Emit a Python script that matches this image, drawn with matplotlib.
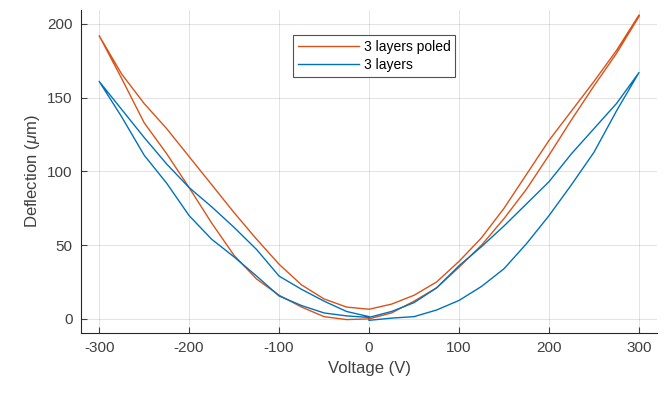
import numpy as np
import matplotlib
matplotlib.use("Agg")
import matplotlib.pyplot as plt

plt.rcParams['font.family'] = ['Liberation Sans', 'DejaVu Sans']
plt.rcParams['mathtext.fontset'] = 'custom'
plt.rcParams['mathtext.it'] = 'Liberation Sans:italic'
plt.rcParams['axes.unicode_minus'] = False

# voltage grid for each half-sweep (V)
v_pos = [0, 25, 50, 75, 100, 125, 150, 175, 200, 225, 250, 275, 300]
v_neg = [0, -25, -50, -75, -100, -125, -150, -175, -200, -225, -250, -275, -300]

# 3 layers poled (um): four branches of the loop
poled_right_up = [0, 4, 12, 21, 35, 50, 68, 88, 111, 135, 158, 180, 205]
poled_right_down = [6.5, 10, 16, 25, 39, 55, 75, 98, 121, 141, 161, 182, 206]
poled_left_out = [6.5, 8, 13.5, 23, 37, 54, 72, 91, 110, 129, 146, 166, 192]
poled_left_back = [0, -0.5, 1.5, 8, 16, 27, 43, 65, 89, 112, 133, 163, 192]

# 3 layers (um)
plain_right_up = [-1, 0.5, 1.5, 6, 12.5, 22, 34, 51, 70, 91, 113, 141, 167]
plain_right_down = [1, 5, 11, 21, 36, 49, 63, 78, 93, 112, 129, 146, 167]
plain_left_out = [1.5, 5, 12, 20, 29, 47, 62, 76, 89, 105, 123, 142, 161]
plain_left_back = [1, 2, 4, 9, 15.5, 29, 42, 54, 70, 92, 111, 137, 161]


def loop(up, down, out, back):
    v = v_pos + v_pos[::-1] + v_neg + v_neg[::-1]
    d = up + down[::-1] + out + back[::-1]
    return np.array(v), np.array(d)


orange = '#D95319'
blue = '#0072BD'

fig = plt.figure(figsize=(6.65, 3.93), dpi=100)
ax = fig.add_axes([0.122, 0.153, 0.866, 0.822])

v1, d1 = loop(poled_right_up, poled_right_down, poled_left_out, poled_left_back)
v2, d2 = loop(plain_right_up, plain_right_down, plain_left_out, plain_left_back)
ax.plot(v1, d1, color=orange, lw=1.0, label='3 layers poled')
ax.plot(v2, d2, color=blue, lw=1.0, label='3 layers')

ax.set_xlim(-320, 320)
ax.set_ylim(-9.5, 209.5)
ax.set_xticks([-300, -200, -100, 0, 100, 200, 300])
ax.set_yticks([0, 50, 100, 150, 200])
ax.grid(True, color='#262626', alpha=0.15, lw=0.6)
ax.set_axisbelow(True)

for s in ['top', 'right']:
    ax.spines[s].set_visible(False)
for s in ['left', 'bottom']:
    ax.spines[s].set_color('#262626')
    ax.spines[s].set_linewidth(0.8)
ax.tick_params(direction='in', length=4, width=0.8, colors='#404040',
               labelsize=11, pad=6)

ax.set_xlabel('Voltage (V)', fontsize=12, color='#404040')
ax.set_ylabel(r'Deflection ($\mu$m)', fontsize=12, color='#404040')

leg = ax.legend(loc='upper center', bbox_to_anchor=(0.509, 0.944), fontsize=10,
                frameon=True, fancybox=False, handlelength=4.4,
                borderpad=0.35, labelspacing=0.3, handletextpad=0.3)
leg.get_frame().set_edgecolor('#262626')
leg.get_frame().set_linewidth(0.8)

fig.savefig('out.png', dpi=100)
